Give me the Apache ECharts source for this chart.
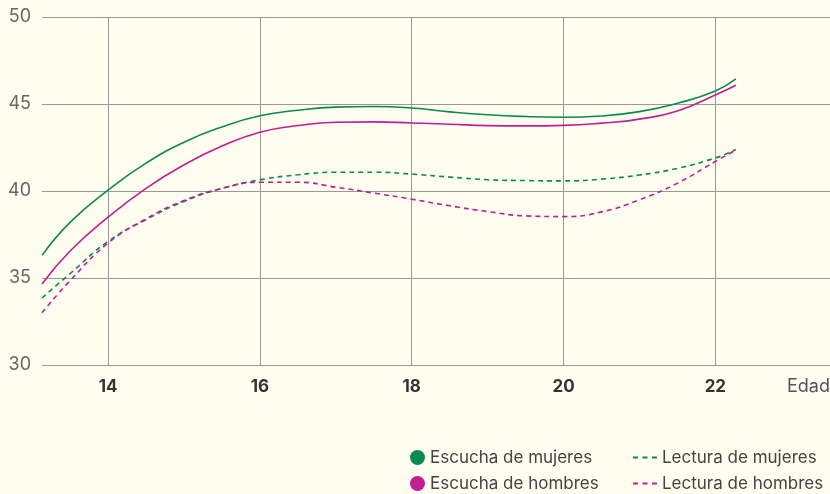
<!DOCTYPE html>
<html>
<head>
<meta charset="utf-8">
<script src="https://cdn.jsdelivr.net/npm/echarts@6/dist/echarts.min.js"></script>
<style>
html,body{margin:0;padding:0;background:#fefdf0;}
#chart{width:830px;height:494px;}
</style>
</head>
<body>
<div id="chart"></div>
<script>
const ages = [13.13, 13.5, 14, 14.5, 15, 15.5, 16, 16.5, 17, 17.5, 18, 18.5, 19, 19.5, 20, 20.5, 21, 21.5, 22, 22.27];
const escuchaMujeres = [36.3, 38.2, 40.05, 41.6, 42.8, 43.68, 44.32, 44.64, 44.82, 44.86, 44.77, 44.55, 44.38, 44.28, 44.24, 44.31, 44.56, 45.04, 45.75, 46.44];
const escuchaHombres = [34.65, 36.55, 38.5, 40.15, 41.5, 42.58, 43.38, 43.76, 43.95, 43.97, 43.91, 43.84, 43.76, 43.74, 43.77, 43.9, 44.13, 44.6, 45.52, 46.08];
const lecturaMujeres = [33.85, 35.25, 37.1, 38.35, 39.4, 40.15, 40.64, 40.93, 41.08, 41.08, 40.97, 40.8, 40.65, 40.6, 40.58, 40.68, 40.92, 41.3, 41.9, 42.38];
const lecturaHombres = [33.0, 34.85, 37.0, 38.4, 39.45, 40.15, 40.5, 40.5, 40.22, 39.88, 39.53, 39.15, 38.82, 38.57, 38.53, 38.8, 39.5, 40.45, 41.7, 42.36];
const seriesNames = ['Escucha de mujeres', 'Escucha de hombres', 'Lectura de mujeres', 'Lectura de hombres'];
const xAxisName = 'Edad';

const GREEN = '#0b8a50';
const MAGENTA = '#c01f92';
const pairs = vals => ages.map((a, i) => [a, vals[i]]);
const dashIcon = 'path://M0,0h5v2h-5z M9.5,0h5v2h-5z M19,0h5v2h-5z';
const legendText = { color: '#444', fontSize: 17, fontFamily: 'Inter, sans-serif' };
const mkLegend = (name, left, top, icon, w, h) => ({
  data: [name], left: left, top: top, icon: icon, itemWidth: w, itemHeight: h,
  padding: 0, itemGap: 0, textStyle: legendText
});

const chart = echarts.init(document.getElementById('chart'));
chart.setOption({
  backgroundColor: '#fefdf0',
  animation: false,
  textStyle: { fontFamily: 'Inter, "Noto Sans", sans-serif' },
  grid: { left: 42, right: 0, top: 17, bottom: 129, containLabel: false },
  xAxis: {
    type: 'value', min: 13.13, max: 23.51, splitNumber: 5,
    axisLine: { show: false }, axisTick: { show: false },
    axisLabel: { showMinLabel: false, showMaxLabel: false, margin: 13, color: '#333', fontSize: 17, fontWeight: 'bold', fontFamily: 'Inter, sans-serif' },
    splitLine: { show: true, showMinLine: false, showMaxLine: false, lineStyle: { color: '#999', width: 1 } }
  },
  yAxis: {
    type: 'value', min: 30, max: 50, interval: 5,
    axisLine: { show: false }, axisTick: { show: false },
    axisLabel: { margin: 11, color: '#666', fontSize: 18, fontFamily: 'Inter, sans-serif' },
    splitLine: { show: true, lineStyle: { color: '#999', width: 1 } }
  },
  legend: [
    mkLegend(seriesNames[0], 410, 449, 'circle', 15, 15),
    mkLegend(seriesNames[1], 410, 475, 'circle', 15, 15),
    mkLegend(seriesNames[2], 633, 449, dashIcon, 24, 15),
    mkLegend(seriesNames[3], 633, 475, dashIcon, 24, 15)
  ],
  graphic: [{
    type: 'text', right: 0, top: 378,
    style: { text: xAxisName, fill: '#555', fontSize: 18, fontFamily: 'Inter, sans-serif' }
  }],
  series: [
    { name: seriesNames[0], type: 'line', data: pairs(escuchaMujeres), smooth: true, symbol: 'none', color: GREEN, lineStyle: { width: 1.6, color: GREEN } },
    { name: seriesNames[1], type: 'line', data: pairs(escuchaHombres), smooth: true, symbol: 'none', color: MAGENTA, lineStyle: { width: 1.6, color: MAGENTA } },
    { name: seriesNames[2], type: 'line', data: pairs(lecturaMujeres), smooth: true, symbol: 'none', color: GREEN, lineStyle: { width: 1.6, color: GREEN, type: [5, 4] } },
    { name: seriesNames[3], type: 'line', data: pairs(lecturaHombres), smooth: true, symbol: 'none', color: MAGENTA, lineStyle: { width: 1.6, color: MAGENTA, type: [5, 4] } }
  ]
});
</script>
</body>
</html>
